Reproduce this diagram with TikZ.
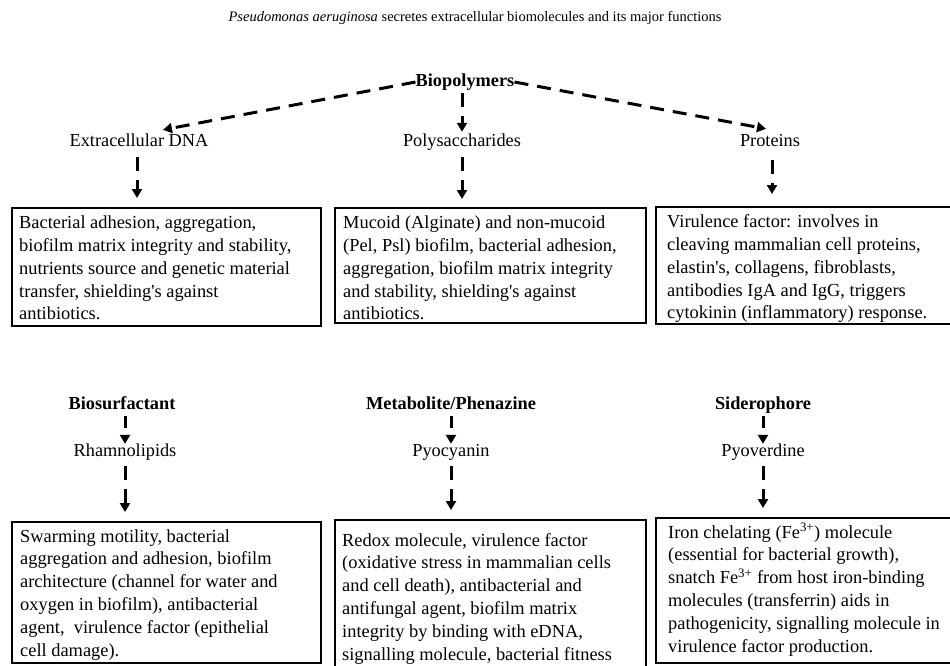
\documentclass[tikz,border=0pt]{standalone}
\usepackage{fontspec}
\setmainfont{Liberation Serif}
\usetikzlibrary{arrows.meta,calc}
\newcommand{\bxt}[1]{\begin{tabular}{@{}l@{}}#1\end{tabular}}
\newcommand{\apo}{\textquotesingle}
\tikzset{
  lbl/.style={font=\fontsize{18.3}{21}\selectfont, inner sep=0pt, text height=12pt, text depth=4pt},
  hdr/.style={lbl, font=\fontsize{18.3}{21}\selectfont\bfseries},
  frame/.style={draw, line width=1.8pt, anchor=north west, inner sep=0pt},
  btxt/.style={anchor=north west, inner sep=0pt, align=left,
    font=\fontsize{18.4}{22.8}\selectfont},
  arr/.style={line width=3pt, dash pattern=on 14pt off 9pt,
    -{Triangle[length=9pt,width=10pt]}},
  sarr/.style={arr, dash pattern=on 12pt off 7pt},
}
\begin{document}
\begin{tikzpicture}[x=1pt,y=-1pt]
\useasboundingbox (0,0) rectangle (950,665);
\clip (0,0) rectangle (950,665);
\fill[white] (0,0) rectangle (950,665);

\node[font=\fontsize{14.5}{17}\selectfont] (title) at (475,18)
  {\textit{Pseudomonas aeruginosa} secretes extracellular biomolecules and its major functions};

% row 1 labels
\node[hdr] (bio) at (465,82) {Biopolymers};
\node[lbl] (edna) at (139,142) {Extracellular DNA};
\node[lbl] (poly) at (462,142) {Polysaccharides};
\node[lbl] (prot) at (770,142) {Proteins};

% row 1 boxes
\node[frame, minimum width=309pt, minimum height=118pt] (b1) at (11,207) {};
\node[btxt] (t1) at (19,212.5) {\bxt{%
Bacterial adhesion, aggregation,\\
biofilm matrix integrity and stability,\\
nutrients source and genetic material\\
transfer, shielding\apo s against\\
antibiotics.}};
\node[frame, minimum width=311pt, minimum height=115pt] (b2) at (334,207) {};
\node[btxt] (t2) at (343,212.5) {\bxt{%
Mucoid (Alginate) and non-mucoid\\
(Pel, Psl) biofilm, bacterial adhesion,\\
aggregation, biofilm matrix integrity\\
and stability, shielding\apo s against\\
antibiotics.}};
\node[frame, minimum width=305pt, minimum height=117pt] (b3) at (655,206) {};
\node[btxt] (t3) at (667,211.5) {\bxt{%
Virulence factor: involves in\\
cleaving mammalian cell proteins,\\
elastin\apo s, collagens, fibroblasts,\\
antibodies IgA and IgG, triggers\\
cytokinin (inflammatory) response.}};

% row 2 labels
\node[hdr] (bios) at (122,405) {Biosurfactant};
\node[hdr] (meta) at (451,405) {Metabolite/Phenazine};
\node[hdr] (sid) at (763,405) {Siderophore};
\node[lbl] (rham) at (125,452) {Rhamnolipids};
\node[lbl] (pyoc) at (451,452) {Pyocyanin};
\node[lbl] (pyov) at (763,452) {Pyoverdine};

% row 2 boxes
\node[frame, minimum width=309pt, minimum height=141pt] (b4) at (11,521) {};
\node[btxt] (t4) at (20,526) {\bxt{%
Swarming motility, bacterial\\
aggregation and adhesion, biofilm\\
architecture (channel for water and\\
oxygen in biofilm), antibacterial\\
agent,\ \ virulence factor (epithelial\\
cell damage).}};
\node[frame, minimum width=311pt, minimum height=160pt] (b5) at (334,519) {};
\node[btxt] (t5) at (342,530) {\bxt{%
Redox molecule, virulence factor\\
(oxidative stress in mammalian cells\\
and cell death), antibacterial and\\
antifungal agent, biofilm matrix\\
integrity by binding with eDNA,\\
signalling molecule, bacterial fitness}};
\node[frame, minimum width=305pt, minimum height=145pt] (b6) at (655,517) {};
\node[btxt] (t6) at (668,522) {\bxt{%
Iron chelating (Fe\textsuperscript{3+}) molecule\\
(essential for bacterial growth),\\
snatch Fe\textsuperscript{3+} from host iron-binding\\
molecules (transferrin) aids in\\
pathogenicity, signalling molecule in\\
virulence factor production.}};

% connectors row 1
\draw[arr] (bio.west) -- ($(edna.north)+(24,-4)$);
\draw[arr] (bio.east) -- ($(prot.north)+(-4,-5)$);
\draw[arr, shorten <=3pt, shorten >=2pt] (bio.south -| poly.north) -- (poly.north);
\draw[arr, shorten <=7pt, shorten >=9pt] (edna.south -| 137,0) -- (b1.north -| 137,0);
\draw[arr, shorten <=7pt, shorten >=8pt] (poly.south) -- (b2.north -| poly.south);
\draw[arr, shorten <=10pt, shorten >=12pt] (prot.south -| 772,0) -- (b3.north -| 772,0);

% connectors row 2
\draw[sarr, shorten <=3pt] (bios.south -| rham.north) -- (rham.north);
\draw[sarr, shorten <=3pt] (meta.south) -- (pyoc.north);
\draw[sarr, shorten <=3pt] (sid.south) -- (pyov.north);
\draw[arr, shorten <=6pt, shorten >=9pt] (rham.south) -- (b4.north -| rham.south);
\draw[arr, shorten <=6pt, shorten >=9pt] (pyoc.south) -- (b5.north -| pyoc.south);
\draw[arr, shorten <=6pt, shorten >=9pt] (pyov.south) -- (b6.north -| pyov.south);
\end{tikzpicture}
\end{document}
